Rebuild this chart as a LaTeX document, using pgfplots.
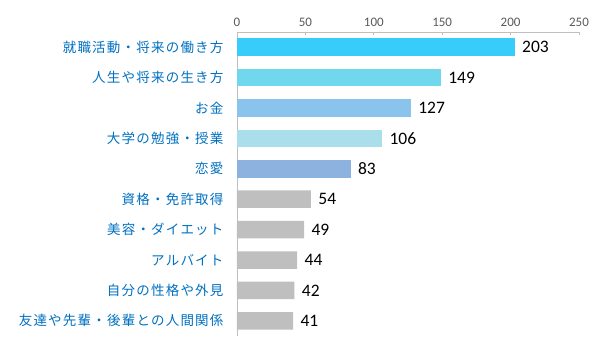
\documentclass[border=0pt]{standalone}
\usepackage{pgfplots}
\pgfplotsset{compat=1.18}
\usepackage{fontspec}
\setmainfont{Carlito}
\newfontfamily\jp[LetterSpace=9]{Noto Sans CJK JP}
\definecolor{labelblue}{HTML}{0070C0}
\definecolor{cA}{HTML}{38CCFB}
\definecolor{cB}{HTML}{70D7EC}
\definecolor{cC}{HTML}{8AC4EC}
\definecolor{cD}{HTML}{A9DEEA}
\definecolor{cE}{HTML}{8EB2DF}
\definecolor{cG}{HTML}{BFBFBF}
\definecolor{axgray}{HTML}{BFBFBF}
\definecolor{tickgray}{HTML}{595959}
\begin{document}
\begin{tikzpicture}
\begin{axis}[name=ax, scale only axis, width=342pt, height=304pt,
  xbar, bar width=17.5pt, bar shift=0pt,
  xmin=0, xmax=250, ymin=-0.5, ymax=9.5, y dir=reverse,
  axis x line*=top, axis y line*=left,
  xtick={0,50,...,250}, ytick={0,...,9},
  yticklabels={就職活動・将来の働き方,人生や将来の生き方,お金,大学の勉強・授業,恋愛,資格・免許取得,美容・ダイエット,アルバイト,自分の性格や外見,友達や先輩・後輩との人間関係},
  tick align=inside,
  x tick style={axgray, line width=0.8pt}, major tick length=3pt,
  y tick style={draw=none},
  axis line style={axgray, line width=0.8pt},
  /pgf/number format/assume math mode=true,
  xticklabel style={font=\fontsize{13}{13}\selectfont, text=tickgray, yshift=2pt},
  yticklabel style={font=\jp\fontsize{13.5}{14}\selectfont, text=labelblue, xshift=-10pt},
  nodes near coords, point meta=x,
  nodes near coords style={font=\fontsize{17.5}{17.5}\selectfont, black, anchor=west, xshift=4pt},
]
\addplot[fill=cA, draw=none] coordinates {(203,0)};
\addplot[fill=cB, draw=none] coordinates {(149,1)};
\addplot[fill=cC, draw=none] coordinates {(127,2)};
\addplot[fill=cD, draw=none] coordinates {(106,3)};
\addplot[fill=cE, draw=none] coordinates {(83,4)};
\addplot[fill=cG, draw=none] coordinates {(54,5) (49,6) (44,7) (42,8) (41,9)};
\end{axis}
\pgfresetboundingbox
\path (ax.south west) ++(-237pt,-13pt) rectangle ++(598pt,349pt);
\end{tikzpicture}
\end{document}
